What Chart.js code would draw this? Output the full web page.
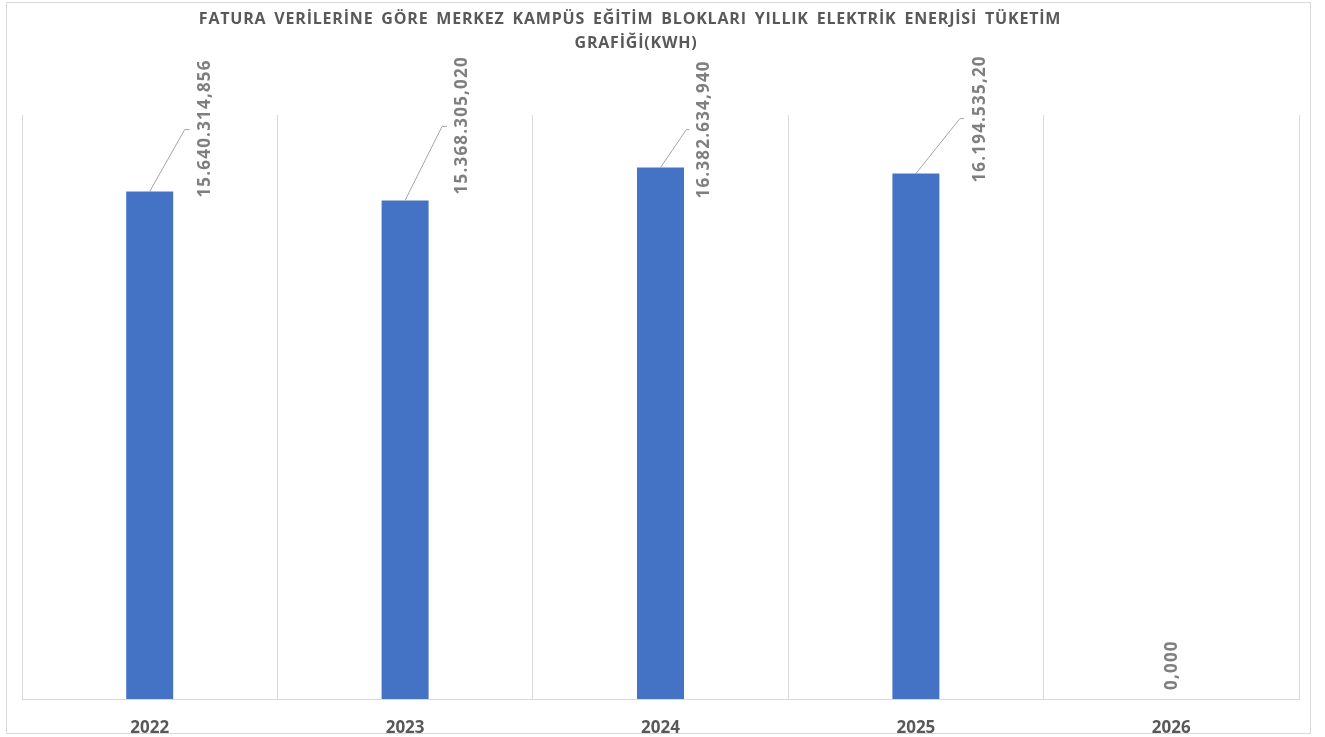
<!DOCTYPE html>
<html>
<head>
<meta charset="utf-8">
<script src="https://cdn.jsdelivr.net/npm/chart.js@4.4.1/dist/chart.umd.min.js"></script>
<style>
  html, body { margin: 0; padding: 0; background: #ffffff; }
  #wrap { width: 1325px; height: 737px; position: relative; }
</style>
</head>
<body>
<div id="wrap"><canvas id="c" width="1325" height="737"></canvas></div>
<script>
const years = ['2022', '2023', '2024', '2025', '2026'];
const consumption = [15640314.856, 15368305.020, 16382634.940, 16194535.20, 0];
const valueLabels = ['15.640.314,856', '15.368.305,020', '16.382.634,940', '16.194.535,20', '0,000'];
const titleLines = [
  'FATURA VERİLERİNE GÖRE MERKEZ KAMPÜS EĞİTİM BLOKLARI YILLIK ELEKTRİK ENERJİSİ TÜKETİM',
  'GRAFİĞİ(KWH)'
];

// label placement (style): [text dx, text-bottom dy, elbow dx, elbow dy, leader end dx] relative to bar top center
const labelPlacement = [
  [55, 6, 35, -62, 40],
  [57, -6, 37, -74, 42],
  [44, 31, 26, -38, 29],
  [64, 9, 44, -55, 48],
  [1, -9, null, null, null]
];

const FONT = '"Open Sans", "DejaVu Sans", sans-serif';

const framePlugin = {
  id: 'frame',
  beforeDraw(chart) {
    const ctx = chart.ctx;
    ctx.save();
    ctx.fillStyle = '#ffffff';
    ctx.fillRect(0, 0, chart.width, chart.height);
    ctx.strokeStyle = '#d9d9d9';
    ctx.lineWidth = 1;
    ctx.strokeRect(6.5, 2.5, 1304, 731);
    ctx.restore();
  },
  afterDraw(chart) {
    const ctx = chart.ctx;
    ctx.save();
    ctx.fillStyle = '#595959';
    ctx.font = 'bold 16px ' + FONT;
    ctx.textAlign = 'center';
    ctx.textBaseline = 'middle';
    try { ctx.letterSpacing = '0.8px'; ctx.wordSpacing = '3px'; } catch (e) {}
    ctx.fillText(titleLines[0], 630, 19);
    ctx.fillText(titleLines[1], 636, 43);
    ctx.restore();
  }
};

const labelPlugin = {
  id: 'valueLabels',
  afterDatasetsDraw(chart) {
    const ctx = chart.ctx;
    const meta = chart.getDatasetMeta(0);
    meta.data.forEach((bar, i) => {
      const p = labelPlacement[i];
      const x = bar.x, y = bar.y;
      ctx.save();
      if (p[2] !== null) {
        ctx.strokeStyle = '#a6a6a6';
        ctx.lineWidth = 1;
        ctx.beginPath();
        ctx.moveTo(x, y);
        ctx.lineTo(x + p[2], y + p[3]);
        ctx.lineTo(x + p[4], y + p[3]);
        ctx.stroke();
      }
      ctx.translate(x + p[0], y + p[1]);
      ctx.rotate(-Math.PI / 2);
      ctx.fillStyle = '#7f7f7f';
      ctx.font = 'bold 17px ' + FONT;
      try { ctx.letterSpacing = '1.2px'; } catch (e) {}
      ctx.textAlign = 'left';
      ctx.textBaseline = 'middle';
      ctx.fillText(valueLabels[i], 0, 0);
      ctx.restore();
    });
  }
};

new Chart(document.getElementById('c'), {
  type: 'bar',
  data: {
    labels: years,
    datasets: [{
      data: consumption,
      backgroundColor: '#4472c4',
      borderWidth: 0,
      categoryPercentage: 1,
      barPercentage: 0.184
    }]
  },
  options: {
    responsive: false,
    animation: false,
    layout: { padding: { left: 22, right: 26, top: 115, bottom: 0 } },
    plugins: {
      legend: { display: false },
      title: { display: false },
      tooltip: { enabled: false }
    },
    scales: {
      x: {
        offset: true,
        afterFit: (s) => { s.height = 38; },
        grid: { display: true, color: '#d9d9d9', lineWidth: 1, drawTicks: false, offset: true },
        border: { display: true, color: '#d9d9d9', width: 1 },
        ticks: { color: '#595959', font: { family: FONT, size: 17, weight: 'bold' }, padding: 19 }
      },
      y: {
        display: false,
        min: 0,
        max: 18000000
      }
    }
  },
  plugins: [framePlugin, labelPlugin]
});
</script>
</body>
</html>
